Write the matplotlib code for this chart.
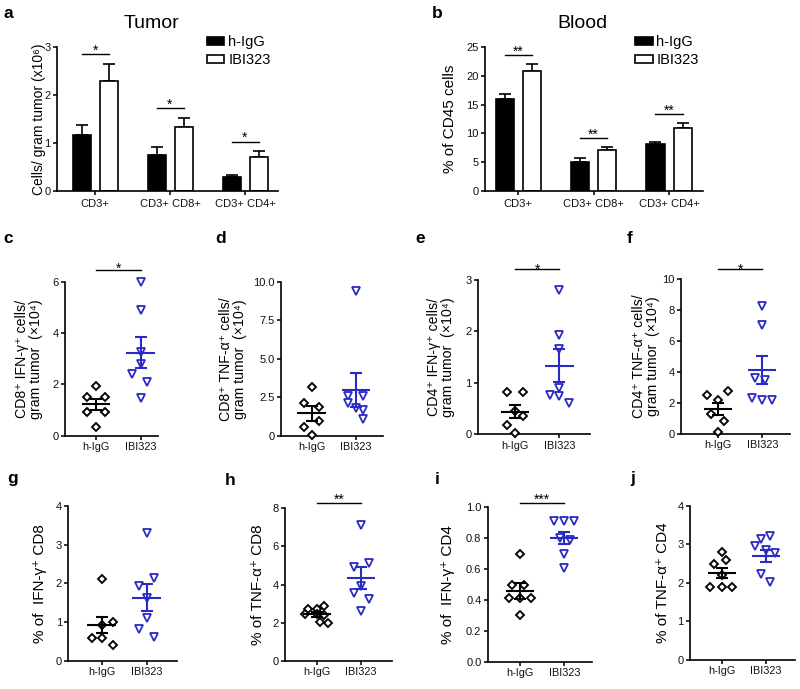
import matplotlib
matplotlib.use("Agg")
import matplotlib.pyplot as plt
from matplotlib.patches import Patch
import numpy as np

plt.rcParams['font.family'] = ['Liberation Sans', 'DejaVu Sans']
plt.rcParams['axes.linewidth'] = 1.2
plt.rcParams['xtick.major.width'] = 1.2
plt.rcParams['ytick.major.width'] = 1.2

BLUE = '#2a2ac4'
W, H = 800, 689

# ---------------- data ----------------
bar_groups = ['CD3+', 'CD3+ CD8+', 'CD3+ CD4+']
tumor_igg = [1.17, 0.76, 0.285]
tumor_igg_err = [0.20, 0.15, 0.05]
tumor_ibi = [2.29, 1.33, 0.70]
tumor_ibi_err = [0.35, 0.20, 0.14]
tumor_sig = ['*', '*', '*']
tumor_sig_y = [2.86, 1.72, 1.03]

blood_igg = [16.0, 5.1, 8.1]
blood_igg_err = [0.8, 0.55, 0.35]
blood_ibi = [20.9, 7.06, 11.0]
blood_ibi_err = [1.1, 0.5, 0.8]
blood_sig = ['**', '**', '**']
blood_sig_y = [23.6, 9.15, 13.3]

groups = ['h-IgG', 'IBI323']

c_igg = [1.95, 1.5, 1.5, 0.93, 0.93, 0.33]
c_ibi = [6.0, 4.9, 3.25, 2.8, 2.4, 2.1, 1.48]
c_mean = [1.22, 3.24]
c_sem = [0.22, 0.61]

d_igg = [3.15, 2.1, 1.85, 0.95, 0.55, 0.05]
d_ibi = [9.4, 2.6, 2.55, 2.1, 1.8, 1.7, 1.1]
d_mean = [1.45, 2.97]
d_sem = [0.5, 1.1]

e_igg = [0.83, 0.83, 0.45, 0.35, 0.18, 0.03]
e_ibi = [2.81, 1.93, 1.65, 0.9, 0.77, 0.74, 0.6]
e_mean = [0.44, 1.33]
e_sem = [0.13, 0.32]

f_igg = [2.78, 2.5, 2.2, 1.3, 0.85, 0.15]
f_ibi = [8.3, 7.05, 3.6, 3.5, 2.35, 2.2, 2.2]
f_mean = [1.6, 4.14]
f_sem = [0.4, 0.93]

g_igg = [2.1, 1.0, 0.93, 0.6, 0.6, 0.4]
g_ibi = [3.3, 2.13, 1.93, 1.62, 1.12, 0.82, 0.62]
g_mean = [0.93, 1.63]
g_sem = [0.21, 0.35]

h_igg = [2.9, 2.75, 2.75, 2.45, 2.45, 2.4, 2.05, 2.0]
h_ibi = [7.12, 5.15, 4.95, 3.95, 3.55, 3.25, 2.6]
h_mean = [2.45, 4.33]
h_sem = [0.12, 0.57]

i_igg = [0.70, 0.50, 0.50, 0.41, 0.41, 0.41, 0.30]
i_ibi = [0.91, 0.91, 0.91, 0.80, 0.79, 0.70, 0.61]
i_mean = [0.458, 0.80]
i_sem = [0.05, 0.04]

j_igg = [2.8, 2.6, 2.5, 2.2, 1.9, 1.9, 1.9]
j_ibi = [3.22, 3.13, 2.95, 2.85, 2.78, 2.22, 2.01]
j_mean = [2.26, 2.69]
j_sem = [0.13, 0.15]

# horizontal scatter spread of points (layout only)
c_igg_dx = [0, -0.19, 0.2, -0.19, 0.2, 0]
c_ibi_dx = [0, 0, 0, 0, -0.19, 0.15, 0]
d_igg_dx = [0, -0.17, 0.17, 0.17, -0.17, 0]
d_ibi_dx = [0, -0.17, 0.17, -0.17, 0, 0.17, 0.17]
e_igg_dx = [-0.18, 0.18, 0, 0.18, -0.18, 0]
e_ibi_dx = [0, 0, 0, 0, -0.22, 0, 0.22]
f_igg_dx = [0.21, -0.25, 0, -0.17, 0.12, 0]
f_ibi_dx = [0, 0, -0.17, 0.06, -0.24, 0, 0.21]
g_igg_dx = [0, 0.25, 0, -0.22, 0, 0.25]
g_ibi_dx = [0, 0.16, -0.16, 0, 0, -0.16, 0.16]
h_igg_dx = [0.15, -0.19, 0, -0.26, 0, 0.15, 0.06, 0.25]
h_ibi_dx = [0, 0.17, -0.17, 0, -0.17, 0.17, 0]
i_igg_dx = [0, -0.17, 0.09, -0.24, 0, 0.24, 0]
i_ibi_dx = [-0.23, 0, 0.23, -0.1, 0.12, 0, 0]
j_igg_dx = [0, 0.11, -0.17, 0, -0.27, 0, 0.23]
j_ibi_dx = [0.1, -0.11, -0.24, 0, 0.21, -0.11, 0.1]

fig = plt.figure(figsize=(W / 100, H / 100), dpi=100)


def add_ax(x0, x1, ytop, ybot):
    return fig.add_axes([x0 / W, 1 - ybot / H, (x1 - x0) / W, (ybot - ytop) / H])


def style(ax):
    for s in ['top', 'right']:
        ax.spines[s].set_visible(False)
    ax.tick_params(direction='out', length=3, labelsize=8, pad=1.5, colors='#111111')


def panel_label(letter, x, ybase):
    fig.text(x / W, 1 - ybase / H, letter, fontsize=12.5, fontweight='bold',
             ha='left', va='baseline')


def star_mark(ax, x0, x1, y, s, off):
    ax.plot([x0, x1], [y, y], color='black', lw=1.0, clip_on=False)
    ax.annotate(s, ((x0 + x1) / 2, y), xytext=(0, off), textcoords='offset points',
                ha='center', va='baseline', fontsize=10, annotation_clip=False)


def bar_panel(ax, igg, igg_err, ibi, ibi_err, sig, sig_y, ylim, yticks, xlim, ylabel, lx,
              star_off, ylsize):
    x = np.arange(len(bar_groups))
    ax.bar(x - 0.18, igg, width=0.24, color='black', edgecolor='black', lw=1.2, zorder=2)
    ax.bar(x + 0.18, ibi, width=0.24, color='white', edgecolor='black', lw=1.2, zorder=2)
    ax.errorbar(x - 0.18, igg, yerr=[np.zeros(len(igg)), igg_err], fmt='none',
                ecolor='black', elinewidth=1.2, capsize=4, capthick=1.2, zorder=1)
    ax.errorbar(x + 0.18, ibi, yerr=[np.zeros(len(ibi)), ibi_err], fmt='none',
                ecolor='black', elinewidth=1.2, capsize=4, capthick=1.2, zorder=1)
    for xi, s, yy in zip(x, sig, sig_y):
        star_mark(ax, xi - 0.18, xi + 0.18, yy, s, star_off)
    ax.set_xlim(*xlim)
    ax.set_ylim(*ylim)
    ax.set_yticks(yticks)
    ax.set_xticks(x)
    ax.set_xticklabels(bar_groups)
    style(ax)
    ax.tick_params(axis='x', pad=3)
    ax.set_ylabel(ylabel, fontsize=ylsize)
    ax.yaxis.set_label_coords(lx, 0.5)


def dot_panel(ax, igg, ibi, igg_dx, ibi_dx, mean, sem, ylim, yticks, ticklabels, xlim,
              ylabel, lx, ylsize, sig=None, sig_y=None, star_off=-2.0):
    ax.plot(np.array(igg_dx) + 0, igg, 'D', ms=3.8, mfc='white', mec='black', mew=1.35,
            ls='none', clip_on=False, zorder=3)
    ax.plot(np.array(ibi_dx) + 1, ibi, 'v', ms=5.3, mfc='white', mec=BLUE, mew=1.3,
            ls='none', clip_on=False, zorder=3)
    for xi, m, s, col in zip([0, 1], mean, sem, ['black', BLUE]):
        ax.hlines(m, xi - 0.32, xi + 0.32, color=col, lw=1.5, zorder=4)
        ax.errorbar([xi], [m], yerr=[s], fmt='none', ecolor=col, elinewidth=1.5,
                    capsize=4.3, capthick=1.5, zorder=4)
    if sig is not None:
        star_mark(ax, 0, 1, sig_y, sig, star_off)
    ax.set_xlim(*xlim)
    ax.set_ylim(*ylim)
    ax.set_yticks(yticks)
    ax.set_yticklabels(ticklabels)
    ax.set_xticks([0, 1])
    ax.set_xticklabels(groups)
    style(ax)
    ax.tick_params(axis='x', labelsize=7.8, pad=1.5)
    ax.set_ylabel(ylabel, fontsize=ylsize, linespacing=1.0)
    ax.yaxis.set_label_coords(lx, 0.5)


# ---- a: Tumor ----
axa = add_ax(57, 278, 47, 191)
bar_panel(axa, tumor_igg, tumor_igg_err, tumor_ibi, tumor_ibi_err, tumor_sig, tumor_sig_y,
          (0, 3), [0, 1, 2, 3], (-0.507, 2.44), 'Cells/ gram tumor (x10\u2076)', -0.05, -0.5,
          10)
fig.text(151 / W, 1 - 24 / H, 'Tumor', fontsize=14, ha='center', va='center')
handles = [Patch(facecolor='black', edgecolor='black', lw=1.2),
           Patch(facecolor='white', edgecolor='black', lw=1.2)]
axa.legend(handles, groups, loc='upper left', bbox_to_anchor=(207 / W, 1 - 35 / H),
           bbox_transform=fig.transFigure, frameon=False, fontsize=10.5, handlelength=1.2,
           handleheight=0.5, handletextpad=0.25, labelspacing=0.3, borderpad=0,
           borderaxespad=0)

# ---- b: Blood ----
axb = add_ax(485, 703, 47, 191)
bar_panel(axb, blood_igg, blood_igg_err, blood_ibi, blood_ibi_err, blood_sig, blood_sig_y,
          (0, 25), [0, 5, 10, 15, 20, 25], (-0.44, 2.45), '% of CD45 cells', -0.128, -0.5,
          11)
fig.text(582 / W, 1 - 24 / H, 'Blood', fontsize=14, ha='center', va='center')
axb.legend(handles, groups, loc='upper left', bbox_to_anchor=(635 / W, 1 - 35 / H),
           bbox_transform=fig.transFigure, frameon=False, fontsize=10.5, handlelength=1.2,
           handleheight=0.5, handletextpad=0.25, labelspacing=0.3, borderpad=0,
           borderaxespad=0)

# ---- c ----
axc = add_ax(65, 158, 281.7, 435.7)
dot_panel(axc, c_igg, c_ibi, c_igg_dx, c_ibi_dx, c_mean, c_sem, (0, 6), [0, 2, 4, 6],
          ['0', '2', '4', '6'], (-0.69, 1.39),
          'CD8\u207a IFN-\u03b3\u207a cells/\ngram tumor  (\u00d710\u2074)', -0.237, 10.2,
          '*', 6.47, -2.5)

# ---- d ----
axd = add_ax(281, 383.3, 281.7, 435.7)
dot_panel(axd, d_igg, d_ibi, d_igg_dx, d_ibi_dx, d_mean, d_sem, (0, 10),
          [0, 2.5, 5, 7.5, 10], ['0', '2.5', '5.0', '7.5', '10.0'], (-0.69, 1.62),
          'CD8\u207a TNF-\u03b1\u207a cells/\ngram tumor  (\u00d710\u2074)', -0.332, 10.2)

# ---- e ----
axe = add_ax(477.7, 590, 280, 434.3)
dot_panel(axe, e_igg, e_ibi, e_igg_dx, e_ibi_dx, e_mean, e_sem, (0, 3), [0, 1, 2, 3],
          ['0', '1', '2', '3'], (-0.84, 1.69),
          'CD4\u207a IFN-\u03b3\u207a cells/\ngram tumor  (\u00d710\u2074)', -0.202, 10.2,
          '*', 3.21, -3.0)

# ---- f ----
axf = add_ax(681, 790, 279.3, 434)
dot_panel(axf, f_igg, f_ibi, f_igg_dx, f_ibi_dx, f_mean, f_sem, (0, 10),
          [0, 2, 4, 6, 8, 10], ['0', '2', '4', '6', '8', '10'], (-0.85, 1.63),
          'CD4\u207a TNF-\u03b1\u207a cells/\ngram tumor  (\u00d710\u2074)', -0.193, 10.2,
          '*', 10.65, -3.0)

# ---- g ----
axg = add_ax(68.3, 176.7, 505.7, 661)
dot_panel(axg, g_igg, g_ibi, g_igg_dx, g_ibi_dx, g_mean, g_sem, (0, 4), [0, 1, 2, 3, 4],
          ['0', '1', '2', '3', '4'], (-0.74, 1.67), '% of  IFN-\u03b3\u207a CD8', -0.196, 11)

# ---- h ----
axh = add_ax(285, 391.7, 508.3, 661)
dot_panel(axh, h_igg, h_ibi, h_igg_dx, h_ibi_dx, h_mean, h_sem, (0, 8), [0, 2, 4, 6, 8],
          ['0', '2', '4', '6', '8'], (-0.72, 1.69), '% of TNF-\u03b1\u207a CD8', -0.187, 11,
          '**', 8.29, -0.5)

# ---- i ----
axi = add_ax(487.7, 591.7, 507.3, 661.7)
dot_panel(axi, i_igg, i_ibi, i_igg_dx, i_ibi_dx, i_mean, i_sem, (0, 1.0),
          [0, 0.2, 0.4, 0.6, 0.8, 1.0], ['0.0', '0.2', '0.4', '0.6', '0.8', '1.0'],
          (-0.73, 1.62), '% of  IFN-\u03b3\u207a CD4', -0.314, 11, '***', 1.03, -0.5)

# ---- j ----
axj = add_ax(690, 795, 505.7, 660)
dot_panel(axj, j_igg, j_ibi, j_igg_dx, j_ibi_dx, j_mean, j_sem, (0, 4), [0, 1, 2, 3, 4],
          ['0', '1', '2', '3', '4'], (-0.72, 1.67), '% of TNF-\u03b1\u207a CD4', -0.19, 11)

# panel letters
for letter, x, yb in [('a', 3, 18), ('b', 432, 18), ('c', 3, 243), ('d', 215, 243),
                      ('e', 415, 243), ('f', 627, 243), ('g', 7, 483), ('h', 225, 485),
                      ('i', 435, 484), ('j', 630, 483)]:
    panel_label(letter, x, yb)

fig.savefig('out.png', dpi=100)
